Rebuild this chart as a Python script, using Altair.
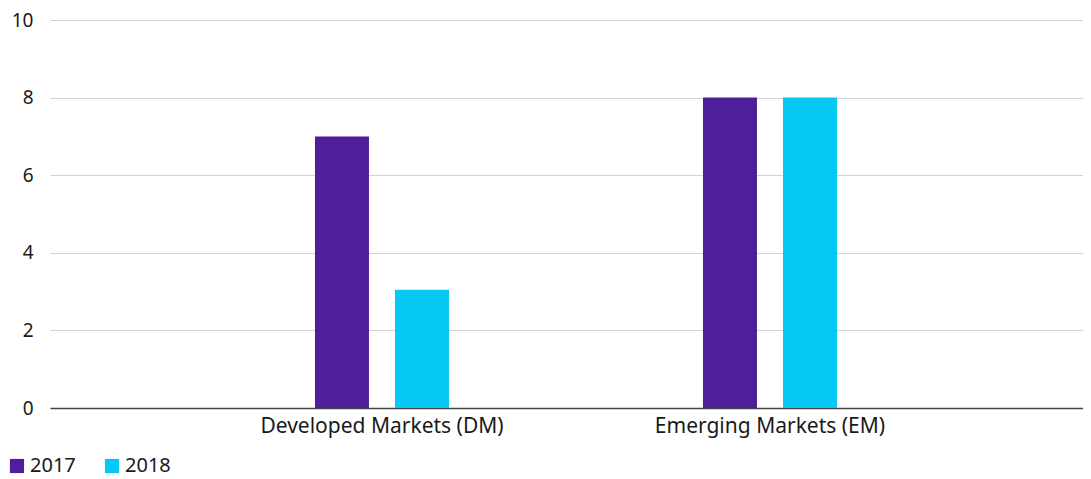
import altair as alt
import pandas as pd

categories = ["Developed Markets (DM)", "Developed Markets (DM)", "Emerging Markets (EM)", "Emerging Markets (EM)"]
years = ["2017", "2018", "2017", "2018"]
values = [7, 3.05, 8, 8]

df = pd.DataFrame({"market": categories, "year": years, "value": values})

FONT = "Noto Sans"

chart = alt.Chart(df).mark_bar().encode(
    x=alt.X("market:N", title=None,
            scale=alt.Scale(paddingInner=0.5, paddingOuter=0.5812, align=0.521),
            axis=alt.Axis(labelAngle=0, ticks=False, domain=True, domainColor="#444444",
                          domainWidth=1.5, labelPadding=7, labelFontSize=21, labelLimit=0,
                          labelColor="#1a1a1a", labelFont=FONT, grid=False)),
    xOffset=alt.XOffset("year:N", scale=alt.Scale(paddingInner=0.325, paddingOuter=0.375, align=0.5)),
    y=alt.Y("value:Q", title=None,
            scale=alt.Scale(domain=[0, 10]),
            axis=alt.Axis(values=[0, 2, 4, 6, 8, 10], ticks=False, domain=False,
                          labelPadding=17, labelFontSize=19, labelColor="#1a1a1a",
                          labelFont=FONT, gridColor="#d3d3d3", gridWidth=1)),
    color=alt.Color("year:N",
                    scale=alt.Scale(domain=["2017", "2018"], range=["#4f1f99", "#05c8f4"]),
                    legend=alt.Legend(title=None, orient="none", direction="horizontal",
                                      legendX=-43, legendY=436, symbolType="square",
                                      symbolSize=200, symbolStrokeWidth=0, labelFontSize=20,
                                      labelFont=FONT, labelColor="#1a1a1a", labelOffset=3,
                                      columnPadding=26)),
).properties(
    width=1033, height=388,
    autosize=alt.AutoSizeParams(type="none"),
    padding={"left": 42, "top": 12, "right": 0, "bottom": 70},
).configure_view(stroke=None)

chart.save("out.html", embed_options={"renderer": "svg", "actions": False})
